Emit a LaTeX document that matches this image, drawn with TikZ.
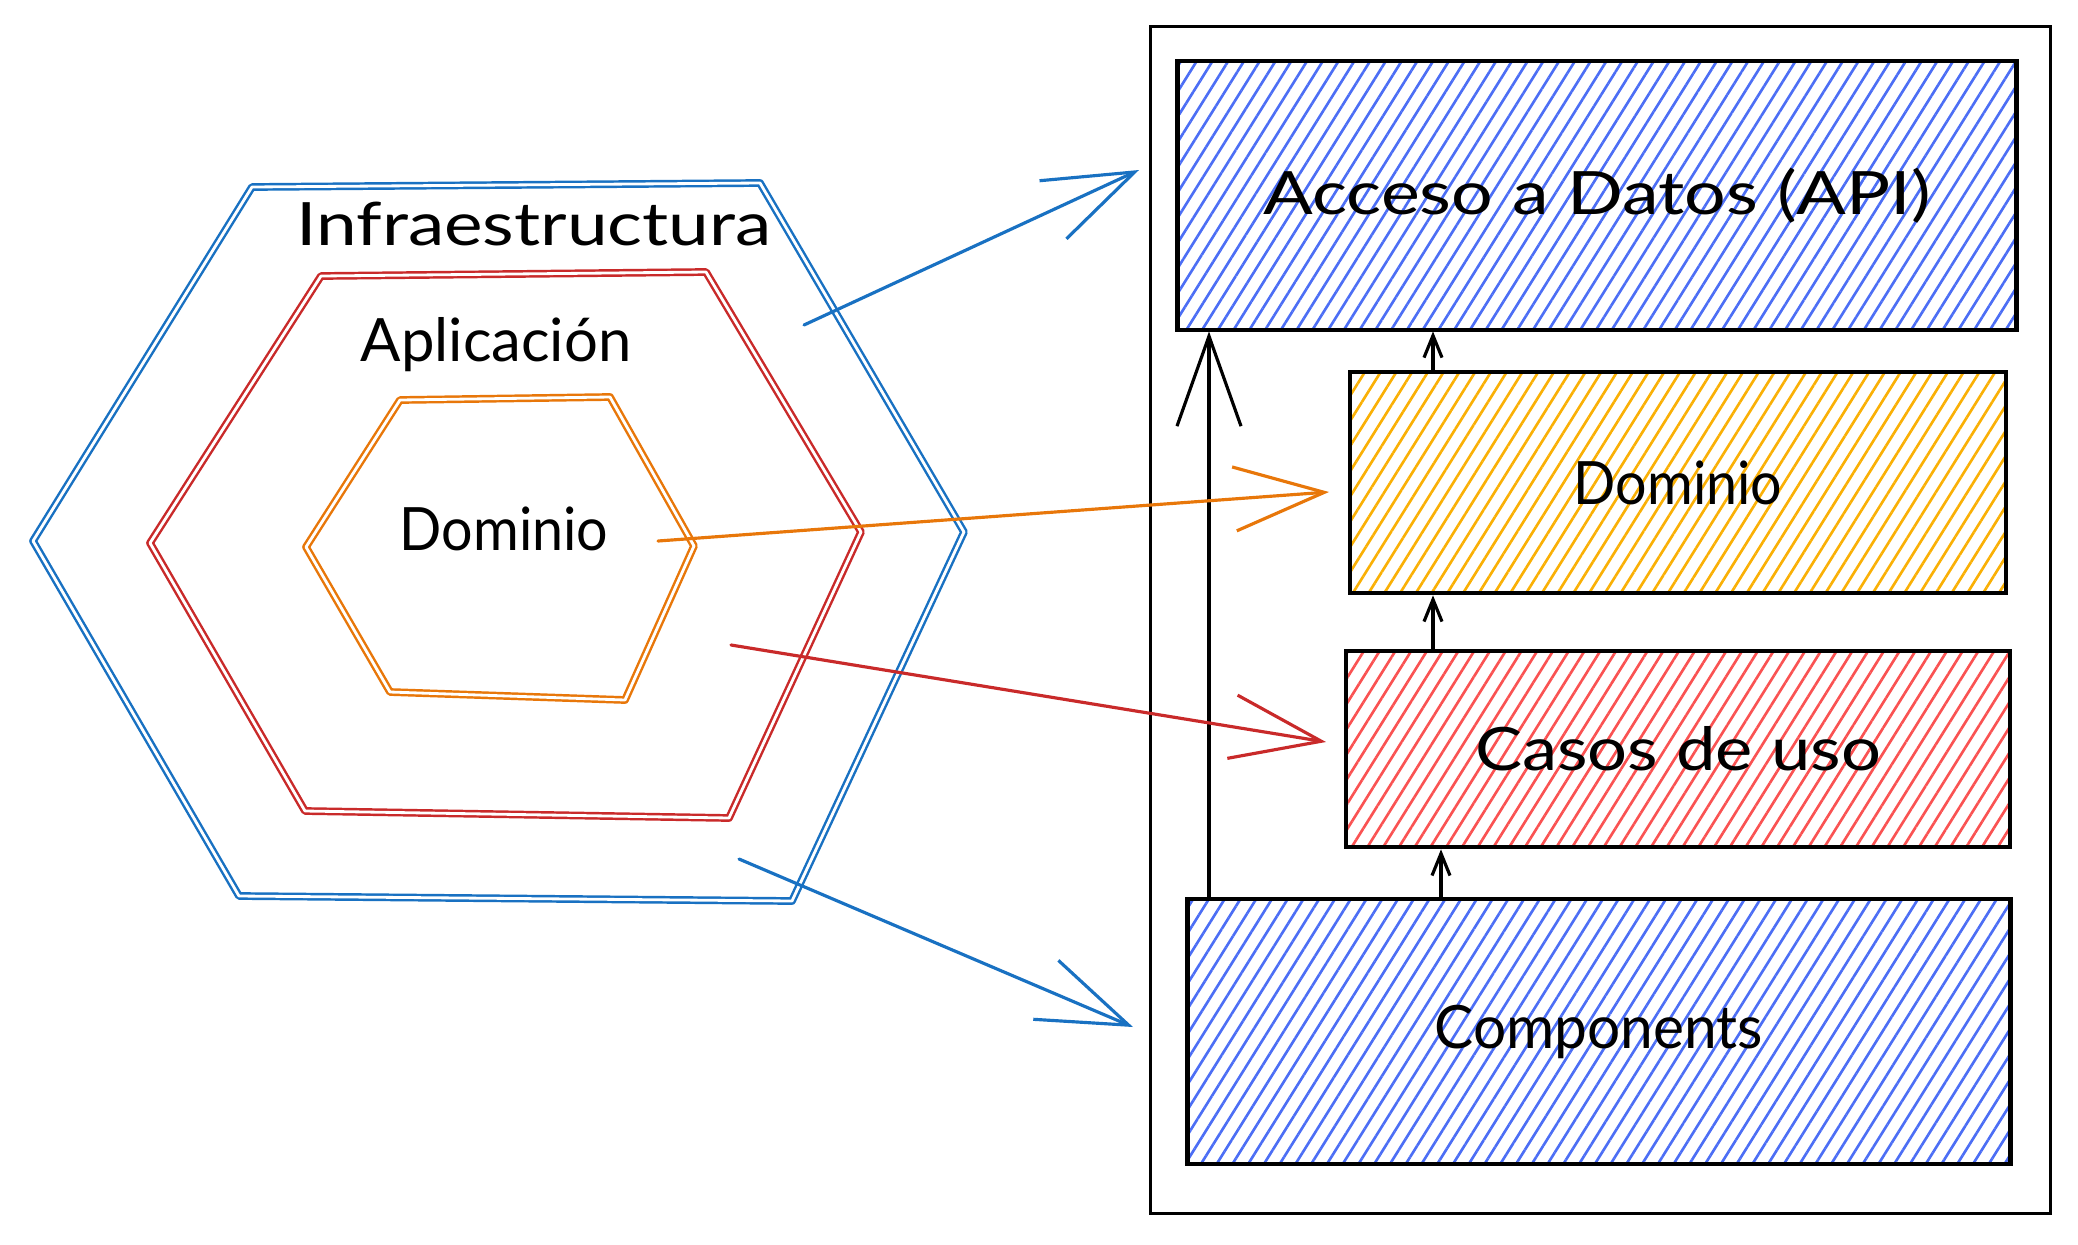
\documentclass[tikz,border=0pt]{standalone}
\usepackage{fontspec}
\setmainfont{Lato}
\usetikzlibrary{arrows.meta,patterns.meta}
\definecolor{hexblue}{HTML}{1971C2}
\definecolor{hexred}{HTML}{C92A2A}
\definecolor{hexorange}{HTML}{E8770A}
\definecolor{hatchblue}{HTML}{4C6EF5}
\definecolor{hatchyellow}{HTML}{FAB005}
\definecolor{hatchred}{HTML}{FA5252}
\tikzset{
  hexline/.style={line width=0.7pt, double=white, double distance=0.8pt, line join=round},
  lbl/.style={font=\fontsize{17}{20}\selectfont, anchor=base, inner sep=0pt},
  layer/.style={draw=black, line width=1.3pt, inner sep=0pt,
    font=\fontsize{17}{20}\selectfont,
    pattern={Lines[angle=58,distance=3.8pt,line width=0.75pt]}},
  framebox/.style={draw=black, line width=0.9pt, inner sep=0pt},
  bigbarb/.style={line width=0.9pt, line cap=round, -{Straight Barb[length=9mm,width=6.4mm]}},
  tinybarb/.style={line width=0.9pt, line cap=round, -{Straight Barb[length=2.2mm,width=1.8mm]}},
}
\begin{document}
\begin{tikzpicture}[x=0.01cm,y=-0.01cm]
\useasboundingbox (0,0) rectangle (2078,1245);

% hexagons
\draw[hexline, draw=hexblue] (252,187) -- (760,183) -- (964,532) -- (792,901) -- (239,896) -- (33,541) -- cycle;
\draw[hexline, draw=hexred] (321,276) -- (706,272) -- (861,532) -- (729,818) -- (305,811) -- (150,543) -- cycle;
\draw[hexline, draw=hexorange] (400,400) -- (610,397) -- (694,546) -- (625,700) -- (390,692) -- (306,547) -- cycle;

\node[lbl] (tinfra) at (534,245) {\scalebox{1.22}[1]{Infraestructura}};
\node[lbl] (tapp) at (496,361) {Aplicación};
\node[lbl] (tdomh) at (504,550) {\scalebox{0.93}[1]{Dominio}};

% right side
\node[framebox, minimum width=8.99cm, minimum height=11.86cm] (frame) at (1600.5,620) {};
\node[layer, pattern color=hatchblue, minimum width=8.38cm, minimum height=2.69cm] (acc) at (1597,195.5) {\scalebox{1.23}[1]{Acceso a Datos (API)}};
\node[layer, pattern color=hatchyellow, minimum width=6.56cm, minimum height=2.21cm] (dom) at (1678,482.5) {\scalebox{0.93}[1]{Dominio}};
\node[layer, pattern color=hatchred, minimum width=6.64cm, minimum height=1.96cm] (cas) at (1678,749) {\scalebox{1.18}[1]{Casos de uso}};
\node[layer, pattern color=hatchblue, minimum width=8.22cm, minimum height=2.65cm] (comp) at (1599,1031.5) {\scalebox{0.98}[1]{Components}};

% vertical arrows
\coordinate (lx) at (1209,0);
\coordinate (ax) at (1433,0);
\coordinate (bx) at (1441,0);
\draw[bigbarb] (comp.north -| lx) -- (acc.south -| lx);
\draw[tinybarb] (dom.north -| ax) -- (acc.south -| ax);
\draw[tinybarb] (cas.north -| ax) -- (dom.south -| ax);
\draw[tinybarb] (comp.north -| bx) -- (cas.south -| bx);

% coloured arrows
\coordinate (s1) at (804,325);  \coordinate (e1) at (1139,170);
\coordinate (s2) at (658,541);  \coordinate (e2) at (1329,492);
\coordinate (s3) at (731,645);  \coordinate (e3) at (1326,742);
\coordinate (s4) at (739,859);  \coordinate (e4) at (1133,1027);
\draw[bigbarb, draw=hexblue] (s1) -- (e1);
\draw[bigbarb, draw=hexorange] (s2) -- (e2);
\draw[bigbarb, draw=hexred] (s3) -- (e3);
\draw[bigbarb, draw=hexblue] (s4) -- (e4);
\end{tikzpicture}
\end{document}
